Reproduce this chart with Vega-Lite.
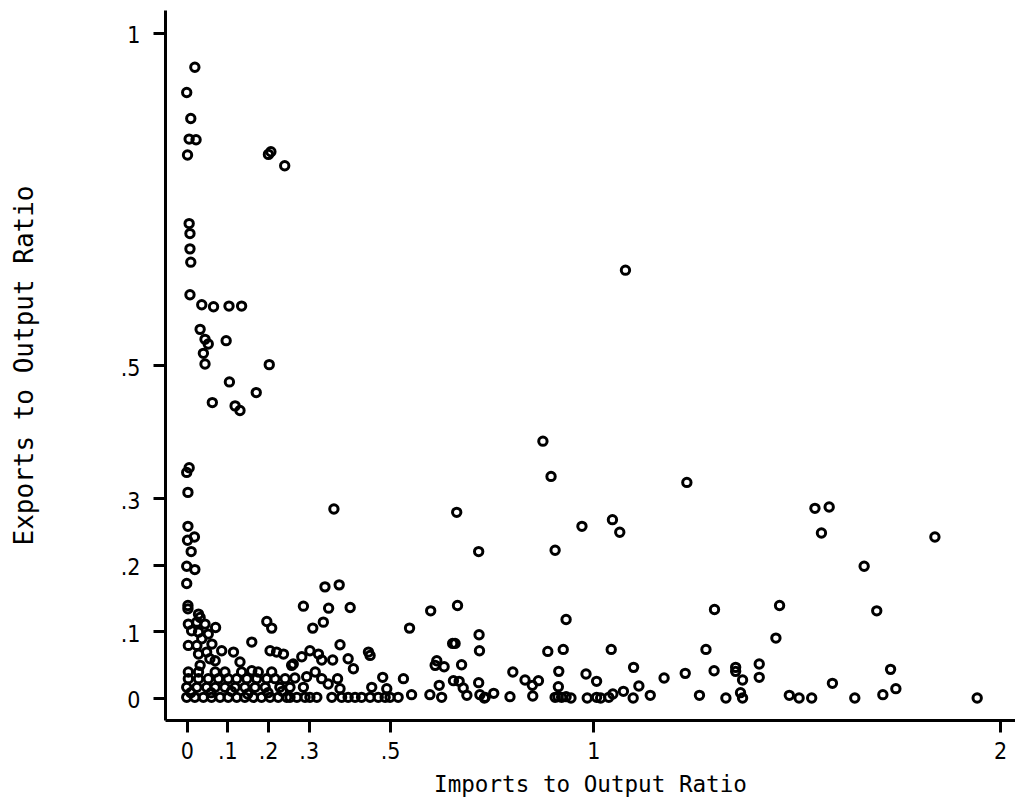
{
"$schema": "https://vega.github.io/schema/vega-lite/v6.json",
"width": 850, "height": 710,
"autosize": {"type": "none"},
"padding": {"left": 165, "top": 10, "right": 0, "bottom": 77},
"background": "white",
"config": {"view": {"stroke": null}},
"data": {"values": [
{"imports":0.020,"exports":0.948},{"imports":0.000,"exports":0.910},{"imports":0.010,"exports":0.871},{"imports":0.006,"exports":0.840},{"imports":0.023,"exports":0.839},{"imports":0.002,"exports":0.816},{"imports":0.201,"exports":0.817},{"imports":0.207,"exports":0.821},{"imports":0.241,"exports":0.800},
{"imports":0.006,"exports":0.713},{"imports":0.008,"exports":0.698},{"imports":0.008,"exports":0.675},{"imports":0.010,"exports":0.655},{"imports":0.008,"exports":0.606},{"imports":0.037,"exports":0.591},{"imports":0.066,"exports":0.588},{"imports":0.104,"exports":0.589},{"imports":0.135,"exports":0.589},{"imports":0.033,"exports":0.554},{"imports":0.045,"exports":0.539},{"imports":0.053,"exports":0.532},{"imports":0.097,"exports":0.537},{"imports":0.041,"exports":0.518},{"imports":0.045,"exports":0.502},{"imports":0.203,"exports":0.501},{"imports":0.105,"exports":0.475},{"imports":0.171,"exports":0.459},{"imports":0.063,"exports":0.444},{"imports":0.119,"exports":0.439},{"imports":0.131,"exports":0.432},
{"imports":0.006,"exports":0.346},{"imports":0.000,"exports":0.339},{"imports":0.003,"exports":0.309},{"imports":0.003,"exports":0.258},{"imports":0.019,"exports":0.242},{"imports":0.002,"exports":0.237},{"imports":0.011,"exports":0.220},{"imports":0.000,"exports":0.198},{"imports":0.020,"exports":0.193},{"imports":0.000,"exports":0.172},
{"imports":1.079,"exports":0.643},{"imports":0.876,"exports":0.386},{"imports":0.896,"exports":0.333},{"imports":1.230,"exports":0.324},{"imports":0.362,"exports":0.284},{"imports":0.664,"exports":0.279},{"imports":1.545,"exports":0.285},{"imports":1.580,"exports":0.287},{"imports":0.972,"exports":0.258},{"imports":1.047,"exports":0.268},{"imports":1.065,"exports":0.249},{"imports":1.561,"exports":0.248},{"imports":1.840,"exports":0.242},{"imports":0.718,"exports":0.220},{"imports":0.906,"exports":0.222},{"imports":1.666,"exports":0.198},{"imports":0.340,"exports":0.167},{"imports":0.375,"exports":0.170},{"imports":0.287,"exports":0.138},{"imports":0.349,"exports":0.135},{"imports":0.402,"exports":0.136},{"imports":0.600,"exports":0.131},
{"imports":0.933,"exports":0.118},{"imports":1.298,"exports":0.133},{"imports":1.458,"exports":0.139},{"imports":1.697,"exports":0.131},{"imports":1.449,"exports":0.090},{"imports":0.888,"exports":0.070},{"imports":0.926,"exports":0.073},{"imports":1.044,"exports":0.073},{"imports":1.277,"exports":0.073},{"imports":0.802,"exports":0.039},{"imports":0.832,"exports":0.027},{"imports":0.865,"exports":0.026},{"imports":0.850,"exports":0.019},{"imports":0.915,"exports":0.040},{"imports":0.914,"exports":0.017},{"imports":0.982,"exports":0.036},{"imports":1.008,"exports":0.025},{"imports":1.099,"exports":0.046},{"imports":1.112,"exports":0.018},{"imports":1.174,"exports":0.030},{"imports":1.226,"exports":0.037},{"imports":1.297,"exports":0.041},{"imports":1.350,"exports":0.046},{"imports":1.350,"exports":0.040},{"imports":1.367,"exports":0.027},{"imports":1.362,"exports":0.008},{"imports":1.408,"exports":0.051},{"imports":1.408,"exports":0.031},{"imports":1.588,"exports":0.022},{"imports":1.731,"exports":0.043},{"imports":1.744,"exports":0.014},{"imports":1.712,"exports":0.005},
{"imports":0.795,"exports":0.002},{"imports":0.851,"exports":0.003},{"imports":0.906,"exports":0.001},{"imports":0.913,"exports":0.002},{"imports":0.922,"exports":0.001},{"imports":0.933,"exports":0.002},{"imports":0.945,"exports":0.000},{"imports":0.985,"exports":0.000},{"imports":1.008,"exports":0.001},{"imports":1.018,"exports":0.000},{"imports":1.038,"exports":0.001},{"imports":1.048,"exports":0.006},{"imports":1.074,"exports":0.010},{"imports":1.098,"exports":0.000},{"imports":1.140,"exports":0.004},{"imports":1.261,"exports":0.004},{"imports":1.326,"exports":0.000},{"imports":1.367,"exports":0.000},{"imports":1.482,"exports":0.004},{"imports":1.506,"exports":0.000},{"imports":1.537,"exports":0.000},{"imports":1.643,"exports":0.000},{"imports":1.944,"exports":0.000},
{"imports":0.666,"exports":0.139},{"imports":0.660,"exports":0.082},{"imports":0.719,"exports":0.095},{"imports":0.720,"exports":0.071},{"imports":0.676,"exports":0.050},{"imports":0.670,"exports":0.025},{"imports":0.680,"exports":0.015},{"imports":0.718,"exports":0.023},{"imports":0.689,"exports":0.004},{"imports":0.721,"exports":0.005},{"imports":0.734,"exports":0.001},{"imports":0.732,"exports":0.000},{"imports":0.755,"exports":0.007},
{"imports":0.310,"exports":0.105},{"imports":0.336,"exports":0.114},{"imports":0.548,"exports":0.105},{"imports":0.654,"exports":0.082},{"imports":0.377,"exports":0.080},{"imports":0.447,"exports":0.069},{"imports":0.451,"exports":0.064},{"imports":0.303,"exports":0.071},{"imports":0.324,"exports":0.066},{"imports":0.283,"exports":0.062},{"imports":0.332,"exports":0.057},{"imports":0.359,"exports":0.057},{"imports":0.397,"exports":0.059},{"imports":0.410,"exports":0.044},{"imports":0.262,"exports":0.051},{"imports":0.615,"exports":0.056},{"imports":0.611,"exports":0.049},{"imports":0.633,"exports":0.047},
{"imports":0.316,"exports":0.039},{"imports":0.295,"exports":0.032},{"imports":0.266,"exports":0.030},{"imports":0.332,"exports":0.029},{"imports":0.371,"exports":0.029},{"imports":0.482,"exports":0.031},{"imports":0.533,"exports":0.029},{"imports":0.621,"exports":0.019},{"imports":0.656,"exports":0.026},{"imports":0.287,"exports":0.016},{"imports":0.348,"exports":0.021},{"imports":0.377,"exports":0.014},{"imports":0.455,"exports":0.016},{"imports":0.492,"exports":0.014},{"imports":0.553,"exports":0.005},{"imports":0.598,"exports":0.005},
{"imports":0.254,"exports":0.001},{"imports":0.271,"exports":0.001},{"imports":0.291,"exports":0.001},{"imports":0.303,"exports":0.001},{"imports":0.320,"exports":0.001},{"imports":0.357,"exports":0.001},{"imports":0.381,"exports":0.001},{"imports":0.397,"exports":0.001},{"imports":0.414,"exports":0.001},{"imports":0.430,"exports":0.001},{"imports":0.451,"exports":0.001},{"imports":0.471,"exports":0.001},{"imports":0.488,"exports":0.001},{"imports":0.500,"exports":0.001},{"imports":0.520,"exports":0.001},{"imports":0.627,"exports":0.001},
{"imports":0.003,"exports":0.139},{"imports":0.003,"exports":0.134},{"imports":0.029,"exports":0.126},{"imports":0.033,"exports":0.121},{"imports":0.004,"exports":0.111},{"imports":0.025,"exports":0.114},{"imports":0.045,"exports":0.111},{"imports":0.071,"exports":0.106},{"imports":0.012,"exports":0.101},{"imports":0.029,"exports":0.099},{"imports":0.053,"exports":0.096},{"imports":0.037,"exports":0.089},{"imports":0.004,"exports":0.079},{"imports":0.025,"exports":0.079},{"imports":0.062,"exports":0.081},{"imports":0.160,"exports":0.084},{"imports":0.197,"exports":0.115},{"imports":0.209,"exports":0.105},{"imports":0.049,"exports":0.069},{"imports":0.086,"exports":0.071},{"imports":0.115,"exports":0.069},{"imports":0.205,"exports":0.071},{"imports":0.221,"exports":0.069},{"imports":0.238,"exports":0.066},{"imports":0.029,"exports":0.066},{"imports":0.057,"exports":0.059},{"imports":0.070,"exports":0.056},{"imports":0.033,"exports":0.049},{"imports":0.131,"exports":0.054},{"imports":0.160,"exports":0.041},{"imports":0.258,"exports":0.049},
{"imports":0.004,"exports":0.039},{"imports":0.029,"exports":0.039},{"imports":0.070,"exports":0.039},{"imports":0.094,"exports":0.039},{"imports":0.135,"exports":0.039},{"imports":0.176,"exports":0.039},{"imports":0.209,"exports":0.039},
{"imports":0.004,"exports":0.029},{"imports":0.029,"exports":0.029},{"imports":0.053,"exports":0.029},{"imports":0.078,"exports":0.029},{"imports":0.102,"exports":0.029},{"imports":0.123,"exports":0.029},{"imports":0.148,"exports":0.029},{"imports":0.172,"exports":0.029},{"imports":0.197,"exports":0.029},{"imports":0.217,"exports":0.029},{"imports":0.242,"exports":0.029},
{"imports":0.000,"exports":0.016},{"imports":0.025,"exports":0.016},{"imports":0.049,"exports":0.016},{"imports":0.070,"exports":0.016},{"imports":0.094,"exports":0.016},{"imports":0.119,"exports":0.016},{"imports":0.143,"exports":0.016},{"imports":0.168,"exports":0.016},{"imports":0.193,"exports":0.016},{"imports":0.229,"exports":0.016},{"imports":0.254,"exports":0.016},
{"imports":0.000,"exports":0.001},{"imports":0.020,"exports":0.001},{"imports":0.041,"exports":0.001},{"imports":0.061,"exports":0.001},{"imports":0.082,"exports":0.001},{"imports":0.102,"exports":0.001},{"imports":0.123,"exports":0.001},{"imports":0.143,"exports":0.001},{"imports":0.164,"exports":0.001},{"imports":0.184,"exports":0.001},{"imports":0.205,"exports":0.001},{"imports":0.225,"exports":0.001},{"imports":0.246,"exports":0.001},
{"imports":0.010,"exports":0.008},{"imports":0.060,"exports":0.008},{"imports":0.110,"exports":0.010},{"imports":0.150,"exports":0.006},{"imports":0.200,"exports":0.008},{"imports":0.235,"exports":0.010}
]},
"mark": {"type": "point", "shape": "circle", "filled": false, "size": 70, "strokeWidth": 3, "color": "black", "opacity": 1},
"encoding": {
"x": {"field": "imports", "type": "quantitative",
 "scale": {"domain": [-0.0534, 2.037], "nice": false, "zero": false},
 "axis": {"title": "Imports to Output Ratio", "values": [0, 0.1, 0.2, 0.3, 0.5, 1, 2],
  "labelExpr": "datum.value > 0 && datum.value < 1 ? replace(format(datum.value, '.1f'), '0.', '.') : format(datum.value, 'd')",
  "grid": false, "domainColor": "black", "domainWidth": 3, "tickColor": "black", "tickWidth": 3, "tickSize": 12,
  "labelFont": "'Liberation Sans Narrow', 'DejaVu Sans Condensed', 'Roboto Condensed', 'Liberation Sans'", "labelFontSize": 23, "labelColor": "black",
  "labelBaseline": "alphabetic", "labelPadding": 26, "labelFlush": false, "labelOverlap": false,
  "titleFont": "DejaVu Sans Mono", "titleFontSize": 22.6, "titleFontWeight": "normal", "titleColor": "black",
  "titleX": 425, "titleY": 71, "titleAlign": "center", "titleBaseline": "alphabetic"}},
"y": {"field": "exports", "type": "quantitative",
 "scale": {"domain": [-0.0331, 1.034], "nice": false, "zero": false},
 "axis": {"title": "Exports to Output Ratio", "values": [0, 0.1, 0.2, 0.3, 0.5, 1],
  "labelExpr": "datum.value > 0 && datum.value < 1 ? replace(format(datum.value, '.1f'), '0.', '.') : format(datum.value, 'd')",
  "grid": false, "domainColor": "black", "domainWidth": 3, "tickColor": "black", "tickWidth": 3, "tickSize": 12,
  "labelFont": "'Liberation Sans Narrow', 'DejaVu Sans Condensed', 'Roboto Condensed', 'Liberation Sans'", "labelFontSize": 23, "labelColor": "black",
  "labelBaseline": "middle", "labelPadding": 13, "labelFlush": false, "labelOverlap": false, "labelOffset": 3,
  "titleFont": "DejaVu Sans Mono", "titleFontSize": 26, "titleFontWeight": "normal", "titleColor": "black",
  "titleX": -133, "titleY": 355, "titleAngle": -90, "titleAlign": "center", "titleBaseline": "alphabetic"}}
}
}
